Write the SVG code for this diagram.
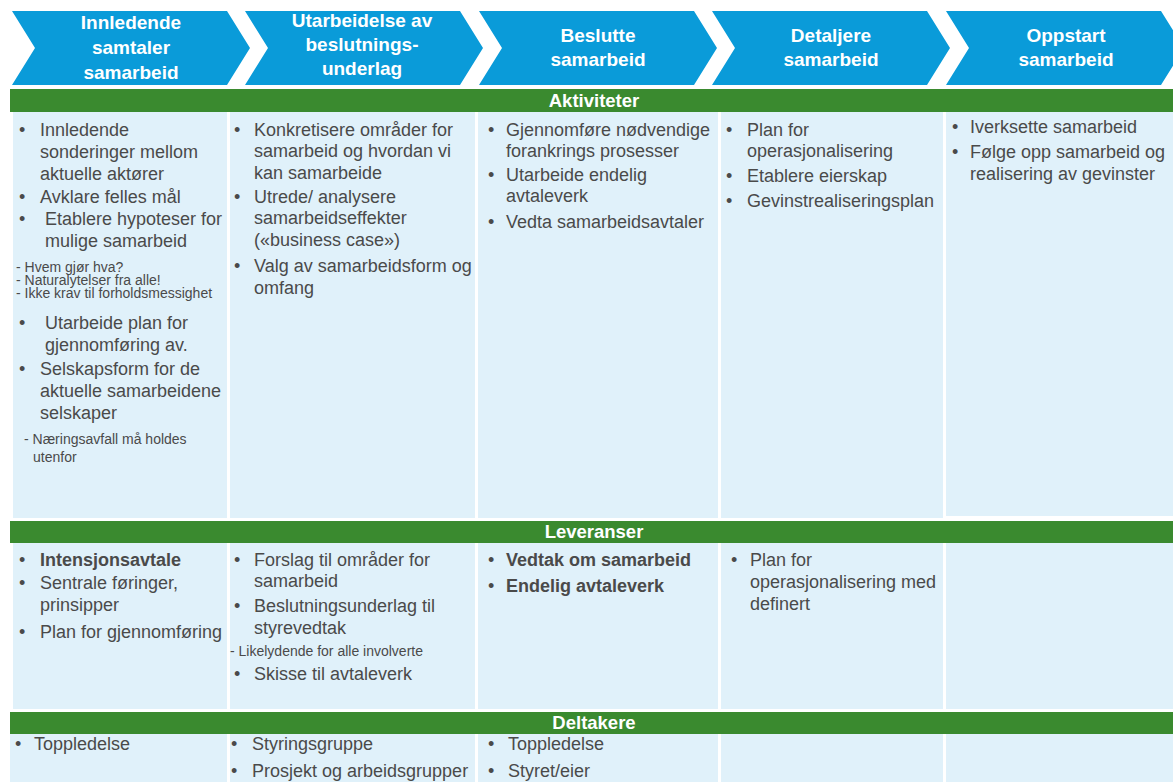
<svg xmlns="http://www.w3.org/2000/svg" width="1173" height="782" viewBox="0 0 1173 782">
<style>
.chev{fill:#0a9bd9}
.ht{font-family:"Liberation Sans",Arial,sans-serif;font-weight:bold;font-size:19px;fill:#ffffff;text-anchor:middle}
.bar{fill:#3a8a2f}
.bt{font-family:"Liberation Sans",Arial,sans-serif;font-weight:bold;font-size:18.5px;fill:#ffffff;text-anchor:middle}
.cell{fill:#e0f1fa}
.t{font-family:"Liberation Sans",Arial,sans-serif;font-size:18px;fill:#4a4a4a}
.b{font-weight:bold}
.s{font-family:"Liberation Sans",Arial,sans-serif;font-size:14px;fill:#4a4a4a}
</style>
<rect width="1173" height="782" fill="#ffffff"/>
<g id="phase1"><polygon class="chev" points="12,11 227,11 250,48 227,85 12,85 35,48"/>
<text class="ht" x="131" y="29">Innledende</text><text class="ht" x="131" y="54">samtaler</text><text class="ht" x="131" y="79">samarbeid</text></g>
<g id="phase2"><polygon class="chev" points="245,11 460,11 483,48 460,85 245,85 268,48"/>
<text class="ht" x="362" y="27">Utarbeidelse av</text><text class="ht" x="362" y="51">beslutnings-</text><text class="ht" x="362" y="75">underlag</text></g>
<g id="phase3"><polygon class="chev" points="479,11 694,11 717,48 694,85 479,85 502,48"/>
<text class="ht" x="598" y="42">Beslutte</text><text class="ht" x="598" y="66">samarbeid</text></g>
<g id="phase4"><polygon class="chev" points="712,11 927,11 950,48 927,85 712,85 735,48"/>
<text class="ht" x="831" y="42">Detaljere</text><text class="ht" x="831" y="66">samarbeid</text></g>
<g id="phase5"><polygon class="chev" points="946,11 1161,11 1184,48 1161,85 946,85 969,48"/>
<text class="ht" x="1066" y="42">Oppstart</text><text class="ht" x="1066" y="66">samarbeid</text></g>

<g id="aktiviteter">
<rect class="bar" x="10" y="89" width="1163" height="23"/>
<text class="bt" x="594" y="107">Aktiviteter</text>
<rect class="cell" x="13" y="112" width="214" height="406"/>
<rect class="cell" x="230" y="112" width="245" height="406"/>
<rect class="cell" x="478" y="112" width="240" height="406"/>
<rect class="cell" x="721" y="112" width="222" height="406"/>
<rect class="cell" x="946" y="112" width="227" height="404"/>
<g class="t">
<text x="19" y="136">•</text><text x="40" y="136">Innledende</text>
<text x="40" y="158">sonderinger mellom</text>
<text x="40" y="180">aktuelle aktører</text>
<text x="19" y="203">•</text><text x="40" y="203">Avklare felles mål</text>
<text x="19" y="225">•</text><text x="45" y="225">Etablere hypoteser for</text>
<text x="45" y="247">mulige samarbeid</text>
</g>
<text class="s" x="16" y="272">- Hvem gjør hva?</text>
<text class="s" x="16" y="285">- Naturalytelser fra alle!</text>
<text class="s" x="16" y="298">- Ikke krav til forholdsmessighet</text>
<g class="t">
<text x="19" y="329">•</text><text x="45" y="329">Utarbeide plan for</text>
<text x="45" y="351">gjennomføring av.</text>
<text x="19" y="375">•</text><text x="40" y="375">Selskapsform for de</text>
<text x="40" y="397">aktuelle samarbeidene</text>
<text x="40" y="419">selskaper</text>
</g>
<text class="s" x="24" y="444">- Næringsavfall må holdes</text>
<text class="s" x="33" y="462">utenfor</text>
<g class="t">
<text x="234" y="136">•</text><text x="254" y="136">Konkretisere områder for</text>
<text x="254" y="157">samarbeid og hvordan vi</text>
<text x="254" y="179">kan samarbeide</text>
<text x="234" y="203">•</text><text x="254" y="203">Utrede/ analysere</text>
<text x="254" y="224">samarbeidseffekter</text>
<text x="254" y="246">(«business case»)</text>
<text x="234" y="272">•</text><text x="254" y="272">Valg av samarbeidsform og</text>
<text x="254" y="294">omfang</text>

<text x="488" y="136">•</text><text x="506" y="136">Gjennomføre nødvendige</text>
<text x="506" y="157">forankrings prosesser</text>
<text x="488" y="181">•</text><text x="506" y="181">Utarbeide endelig</text>
<text x="506" y="202">avtaleverk</text>
<text x="488" y="228">•</text><text x="506" y="228">Vedta samarbeidsavtaler</text>

<text x="726" y="136">•</text><text x="747" y="136">Plan for</text>
<text x="747" y="157">operasjonalisering</text>
<text x="726" y="182">•</text><text x="747" y="182">Etablere eierskap</text>
<text x="726" y="207">•</text><text x="747" y="207">Gevinstrealiseringsplan</text>

<text x="952" y="133">•</text><text x="970" y="133">Iverksette samarbeid</text>
<text x="952" y="158">•</text><text x="970" y="158">Følge opp samarbeid og</text>
<text x="970" y="180">realisering av gevinster</text>
</g>
</g>

<g id="leveranser">
<rect class="bar" x="10" y="521" width="1163" height="22"/>
<text class="bt" x="594" y="538">Leveranser</text>
<rect class="cell" x="13" y="543" width="214" height="166"/>
<rect class="cell" x="230" y="543" width="245" height="166"/>
<rect class="cell" x="478" y="543" width="240" height="166"/>
<rect class="cell" x="721" y="543" width="222" height="166"/>
<rect class="cell" x="946" y="543" width="227" height="166"/>
<g class="t">
<text x="19" y="566">•</text><text class="b" x="40" y="566">Intensjonsavtale</text>
<text x="19" y="589">•</text><text x="40" y="589">Sentrale føringer,</text>
<text x="40" y="611">prinsipper</text>
<text x="19" y="638">•</text><text x="40" y="638">Plan for gjennomføring</text>

<text x="234" y="566">•</text><text x="254" y="566">Forslag til områder for</text>
<text x="254" y="587">samarbeid</text>
<text x="234" y="612">•</text><text x="254" y="612">Beslutningsunderlag til</text>
<text x="254" y="634">styrevedtak</text>
<text x="234" y="680">•</text><text x="254" y="680">Skisse til avtaleverk</text>

<text x="488" y="566">•</text><text class="b" x="506" y="566">Vedtak om samarbeid</text>
<text x="488" y="592">•</text><text class="b" x="506" y="592">Endelig avtaleverk</text>

<text x="731" y="566">•</text><text x="750" y="566">Plan for</text>
<text x="750" y="588">operasjonalisering med</text>
<text x="750" y="610">definert</text>
</g>
<text class="s" x="230" y="656">- Likelydende for alle involverte</text>
</g>

<g id="deltakere">
<rect class="bar" x="10" y="712" width="1163" height="22"/>
<text class="bt" x="594" y="729">Deltakere</text>
<rect class="cell" x="10" y="734" width="217" height="48"/>
<rect class="cell" x="230" y="734" width="245" height="48"/>
<rect class="cell" x="478" y="734" width="240" height="48"/>
<rect class="cell" x="721" y="734" width="222" height="48"/>
<rect class="cell" x="946" y="734" width="227" height="48"/>
<g class="t">
<text x="15" y="750">•</text><text x="34" y="750">Toppledelse</text>
<text x="231" y="750">•</text><text x="252" y="750">Styringsgruppe</text>
<text x="231" y="777">•</text><text x="252" y="777">Prosjekt og arbeidsgrupper</text>
<text x="488" y="750">•</text><text x="508" y="750">Toppledelse</text>
<text x="488" y="777">•</text><text x="508" y="777">Styret/eier</text>
</g>
</g>
</svg>
